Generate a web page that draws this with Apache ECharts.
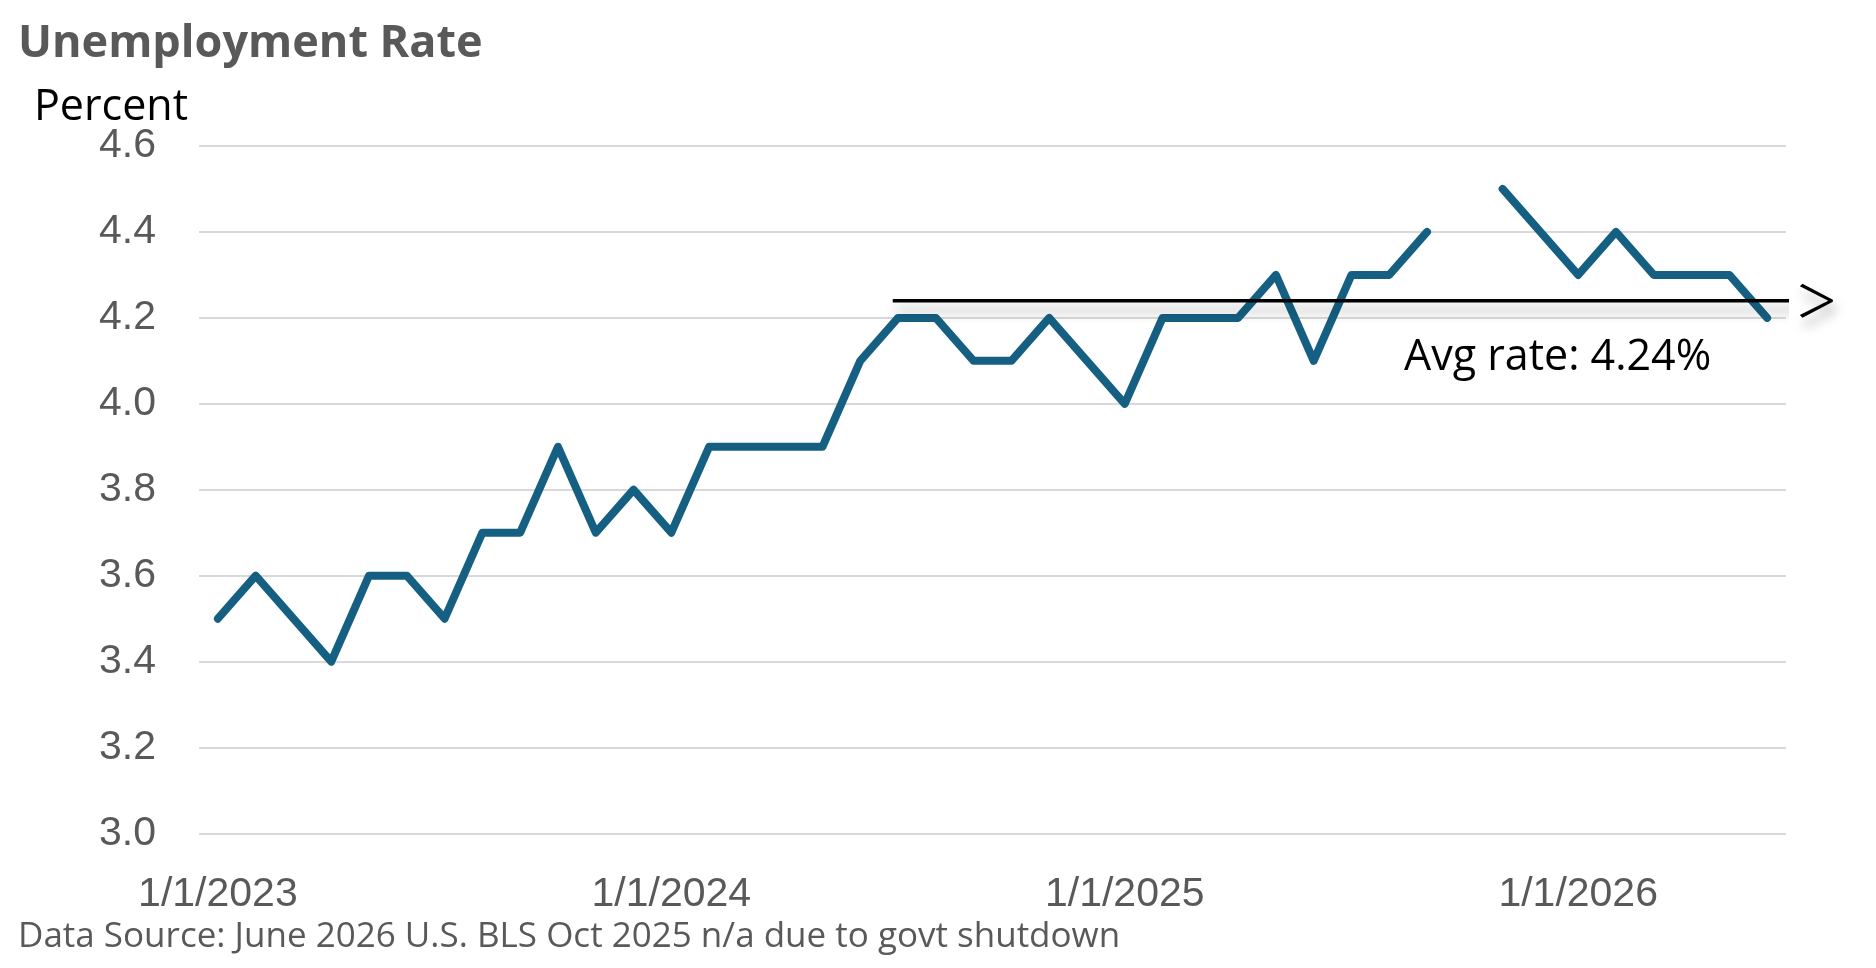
<!DOCTYPE html>
<html><head><meta charset="utf-8">
<script src="https://cdn.jsdelivr.net/npm/echarts@6/dist/echarts.min.js"></script>
<style>html,body{margin:0;padding:0;background:#fff}#c{width:1876px;height:968px}</style>
</head><body><div id="c"></div>
<script>
const months = [
  "1/1/2023","2/1/2023","3/1/2023","4/1/2023","5/1/2023","6/1/2023","7/1/2023","8/1/2023","9/1/2023","10/1/2023","11/1/2023","12/1/2023",
  "1/1/2024","2/1/2024","3/1/2024","4/1/2024","5/1/2024","6/1/2024","7/1/2024","8/1/2024","9/1/2024","10/1/2024","11/1/2024","12/1/2024",
  "1/1/2025","2/1/2025","3/1/2025","4/1/2025","5/1/2025","6/1/2025","7/1/2025","8/1/2025","9/1/2025","10/1/2025","11/1/2025","12/1/2025",
  "1/1/2026","2/1/2026","3/1/2026","4/1/2026","5/1/2026","6/1/2026"
];
const rate = [
  3.5,3.6,3.5,3.4,3.6,3.6,3.5,3.7,3.7,3.9,3.7,3.8,
  3.7,3.9,3.9,3.9,3.9,4.1,4.2,4.2,4.1,4.1,4.2,4.1,
  4.0,4.2,4.2,4.2,4.3,4.1,4.3,4.3,4.4,null,4.5,4.4,
  4.3,4.4,4.3,4.3,4.3,4.2
];
const avgRate = 4.24;
const avgSpan = [17.86, 42.74];   // in month-index units (arrow runs past the last month)
const yMin = 3.0, yMax = 4.6, yStep = 0.2;

const chart = echarts.init(document.getElementById('c'), null, {renderer: 'canvas'});
const textFont = '"Open Sans", "Noto Sans", sans-serif';
const tickFont = '"Liberation Sans", Arial, sans-serif';
const shadow = {shadowColor: 'rgba(0,0,0,0.35)', shadowBlur: 12, shadowOffsetY: 9, shadowOffsetX: 3};

chart.setOption({
  animation: false,
  backgroundColor: '#ffffff',
  title: [
    {text: 'Unemployment Rate', left: 18, top: 22, padding: 0,
     textStyle: {fontFamily: textFont, fontWeight: 'bold', fontSize: 45, color: '#595959'}},
    {text: 'Percent', left: 34, top: 86, padding: 0,
     textStyle: {fontFamily: textFont, fontWeight: 'normal', fontSize: 43, color: '#000000'}},
    {text: 'Data Source: June 2026 U.S. BLS Oct 2025 n/a due to govt shutdown', left: 18, top: 920, padding: 0,
     textStyle: {fontFamily: textFont, fontWeight: 'normal', fontSize: 35, color: '#595959'}}
  ],
  grid: {left: 199, right: 90, top: 146, bottom: 134.5, containLabel: false, outerBoundsMode: 'none'},
  xAxis: [
    {type: 'category', data: months, boundaryGap: true,
     axisLine: {show: false}, axisTick: {show: false}, splitLine: {show: false},
     axisLabel: {interval: 11, color: '#595959', fontFamily: tickFont, fontSize: 41, margin: 41}},
    {type: 'value', min: -0.5, max: months.length - 0.5, show: false}
  ],
  yAxis: {
    type: 'value', min: yMin, max: yMax, interval: yStep,
    axisLine: {show: false}, axisTick: {show: false},
    axisLabel: {formatter: v => v.toFixed(1), color: '#595959', fontFamily: tickFont, fontSize: 41, margin: 43},
    splitLine: {lineStyle: {color: '#d9d9d9', width: 2}}
  },
  series: [
    {type: 'line', name: 'Unemployment Rate', data: rate, connectNulls: false, symbol: 'none', silent: true, z: 3,
     lineStyle: {color: '#156082', width: 8, cap: 'round', join: 'round'}},
    {type: 'line', name: 'Avg', xAxisIndex: 1, clip: false, silent: true, z: 4,
     data: [
       {value: [avgSpan[0], avgRate], symbol: 'none'},
       {value: [avgSpan[1], avgRate], symbol: 'path://M2.5,0L32,15L32,17L2.5,32L0,29.5L27.5,16L0,2.5Z',
        symbolSize: [33, 34], symbolOffset: ['-50%', 0]}
     ],
     lineStyle: Object.assign({color: '#000000', width: 3.5}, shadow),
     itemStyle: Object.assign({color: '#000000'}, shadow)}
  ],
  graphic: [
    {type: 'text', left: 1404, top: 336, silent: true,
     style: {text: 'Avg rate: ' + avgRate.toFixed(2) + '%', fill: '#000000', font: '43px ' + textFont}}
  ]
});
</script></body></html>
